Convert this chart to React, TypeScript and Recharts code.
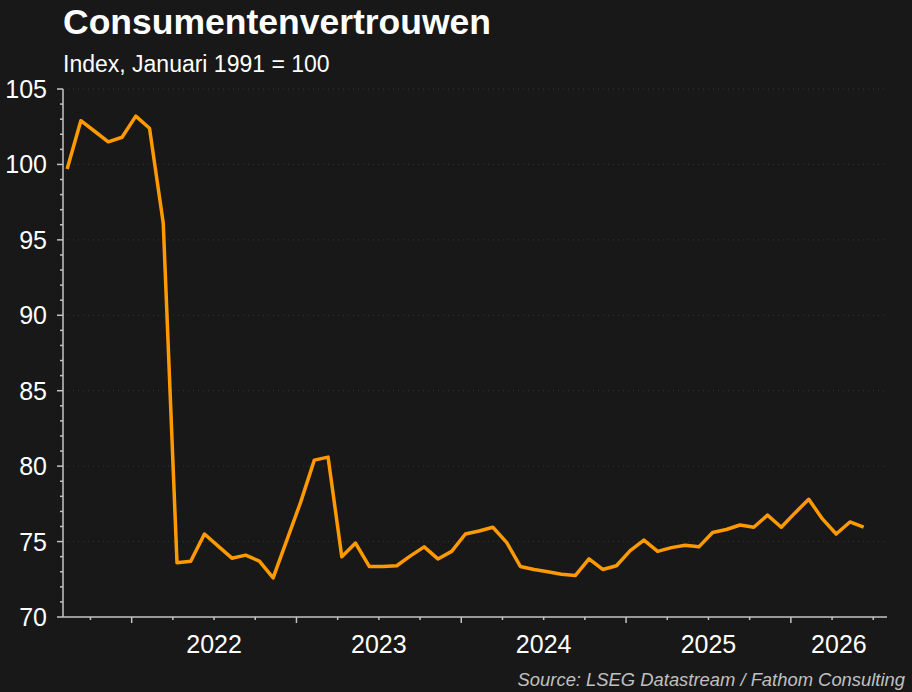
import { LineChart, Line, XAxis, YAxis, CartesianGrid } from 'recharts';

// Monthly consumer confidence, first point is August 2021
const startYear = 2021;
const startMonth = 8;
const confidence = [
  99.7, 102.9, 102.2, 101.5, 101.8, 103.2, 102.4, 96.1, 73.6, 73.7,
  75.5, 74.7, 73.9, 74.1, 73.7, 72.6, 75.1, 77.6, 80.4, 80.6,
  74.0, 74.9, 73.35, 73.35, 73.4, 74.05, 74.65, 73.85, 74.35, 75.5,
  75.7, 75.95, 74.95, 73.35, 73.15, 73.0, 72.83, 72.75, 73.85, 73.15,
  73.4, 74.4, 75.1, 74.35, 74.6, 74.75, 74.65, 75.6, 75.8, 76.1,
  75.95, 76.75, 75.95, 76.9, 77.8, 76.5, 75.5, 76.3, 75.95,
];
const yearLabels = ['2022', '2023', '2024', '2025', '2026'];
const yMajorTicks = [70, 75, 80, 85, 90, 95, 100, 105];

const X_MAX = 60; // months shown on the axis
const yMinorTicks = Array.from({ length: 36 }, (_, i) => 70 + i);

// x in months since the first of the start month; values sit a little into the month
const data = confidence.map((value, i) => ({ t: i + 0.3, value }));

const firstJan = 13 - startMonth; // months until the first January
const yearStarts = yearLabels.map((_, i) => firstJan + i * 12);
const labelPos = yearStarts.map((s) => (s + Math.min(s + 12, X_MAX)) / 2);
const quarterTicks: number[] = [];
for (let q = firstJan % 3; q <= X_MAX; q += 3) quarterTicks.push(q);

const FONT = '"Liberation Sans", Arial, sans-serif';
const AXIS = '#c4c4c4';

const XTick = ({ x, y, payload }: any) => {
  const v = payload.value;
  const li = labelPos.findIndex((p) => Math.abs(p - v) < 0.01);
  const isMajor = yearStarts.includes(v);
  const isQuarter = quarterTicks.includes(v);
  return (
    <g>
      {isQuarter && (
        <line x1={x} x2={x} y1={y} y2={y + (isMajor ? 6 : 3)} stroke={AXIS} strokeWidth={1.5} />
      )}
      {li >= 0 && (
        <text x={x} y={y + 36} textAnchor="middle" fill="#fff" fontSize={25} fontFamily={FONT}>
          {yearLabels[li]}
        </text>
      )}
    </g>
  );
};

const YTick = ({ x, y, payload }: any) => {
  const v = payload.value;
  const isMajor = yMajorTicks.includes(v);
  return (
    <g>
      <line x1={x - (isMajor ? 6 : 3)} x2={x} y1={y} y2={y} stroke={AXIS} strokeWidth={1.5} />
      {isMajor && (
        <text x={x - 16} y={y + 9} textAnchor="end" fill="#fff" fontSize={25} fontFamily={FONT}>
          {v}
        </text>
      )}
    </g>
  );
};

export default function App() {
  const xTicks = Array.from(new Set([...quarterTicks, ...labelPos])).sort((a, b) => a - b);
  return (
    <div
      style={{
        position: 'absolute',
        left: 0,
        top: 0,
        width: 912,
        height: 692,
        background: '#181818',
        fontFamily: FONT,
        overflow: 'hidden',
      }}
    >
      <div style={{ position: 'absolute', left: 63, top: 2, color: '#fff', fontSize: 35.5, fontWeight: 700, lineHeight: 'normal' }}>
        Consumentenvertrouwen
      </div>
      <div style={{ position: 'absolute', left: 63, top: 51, color: '#fff', fontSize: 23, lineHeight: 'normal' }}>
        Index, Januari 1991 = 100
      </div>
      <LineChart width={912} height={692} data={data} margin={{ top: 89, right: 25, bottom: 35, left: 0 }}>
        <CartesianGrid
          vertical={false}
          horizontalValues={yMajorTicks.slice(1)}
          stroke="#363636"
          strokeDasharray="1 4"
        />
        <XAxis
          dataKey="t"
          type="number"
          domain={[0, X_MAX]}
          ticks={xTicks}
          interval={0}
          tickSize={0}
          tickMargin={0}
          tickLine={false}
          tick={<XTick />}
          axisLine={{ stroke: AXIS, strokeWidth: 1.5 }}
          height={40}
          allowDataOverflow
        />
        <YAxis
          type="number"
          domain={[70, 105]}
          ticks={yMinorTicks}
          interval={0}
          tickSize={0}
          tickMargin={0}
          tickLine={false}
          tick={<YTick />}
          axisLine={{ stroke: AXIS, strokeWidth: 1.5 }}
          width={63}
          allowDataOverflow
        />
        <Line
          type="linear"
          dataKey="value"
          stroke="#ff9900"
          strokeWidth={3.5}
          dot={false}
          strokeLinejoin="round"
          isAnimationActive={false}
        />
      </LineChart>
      <div
        style={{
          position: 'absolute',
          right: 7,
          top: 669,
          color: '#c0c0c0',
          fontSize: 18.4,
          fontStyle: 'italic',
          lineHeight: 'normal',
        }}
      >
        Source: LSEG Datastream / Fathom Consulting
      </div>
    </div>
  );
}
